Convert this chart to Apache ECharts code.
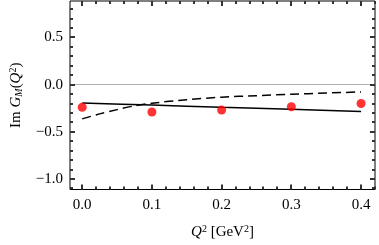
<!DOCTYPE html>
<html><head><meta charset="utf-8">
<script src="https://cdn.jsdelivr.net/npm/echarts@6/dist/echarts.min.js"></script>
<style>html,body{margin:0;padding:0;background:#fff}#c{width:379px;height:245px}</style>
</head><body><div id="c"></div>
<script>
// data
var pointsQ2 = [0.0, 0.1, 0.2, 0.3, 0.4];
var pointsIm = [-0.24, -0.29, -0.27, -0.235, -0.20];
var solidQ2 = [0.0, 0.1, 0.2, 0.3, 0.4];
var solidIm = [-0.195, -0.216, -0.24, -0.261, -0.284];
var dashedQ2 = [0.0, 0.025, 0.05, 0.075, 0.1, 0.15, 0.2, 0.25, 0.3, 0.35, 0.4];
var dashedIm = [-0.363, -0.31, -0.265, -0.225, -0.197, -0.16, -0.133, -0.117, -0.102, -0.089, -0.077];
var xTicks = [0.0, 0.1, 0.2, 0.3, 0.4];
var yTicks = [-1.0, -0.5, 0.0, 0.5];
var xMinorStep = 0.02, yMinorStep = 0.1;

var xMin = -0.0175, xMax = 0.42, yMin = -1.112, yMax = 0.887;
function minor(lo, hi, step) {
  var out = [];
  for (var v = Math.ceil(lo / step) * step; v <= hi + 1e-9; v += step) out.push(+v.toFixed(4));
  return out;
}
var xMinor = minor(xMin, xMax, xMinorStep), yMinor = minor(yMin, yMax, yMinorStep);
function zip(a, b) { return a.map(function (v, i) { return [v, b[i]]; }); }
function fmt(v) { return (v < 0 ? '\u2212' : '') + Math.abs(v).toFixed(1); }
function isMajor(list, v) { return list.some(function (t) { return Math.abs(t - v) < 1e-6; }); }
var font = 'Liberation Serif';
var lab = { fontFamily: font, fontSize: 15, color: '#000' };

var chart = echarts.init(document.getElementById('c'), null, { renderer: 'canvas' });
chart.setOption({
  animation: false,
  backgroundColor: '#fff',
  grid: { left: 60, right: 4, top: 1, bottom: 49, containLabel: false, show: true, borderColor: '#000', borderWidth: 1, backgroundColor: 'transparent' },
  xAxis: {
    type: 'value', min: xMin, max: xMax,
    axisLine: { show: false }, axisTick: { show: false }, splitLine: { show: false },
    axisLabel: Object.assign({ show: true, customValues: xTicks, formatter: fmt, margin: 8 }, lab),
    name: '{i|Q}{sup|2} {r|[GeV}{sup|2}{r|]}', nameLocation: 'middle', nameGap: 35,
    nameTextStyle: { fontFamily: font, fontSize: 15, color: '#000', rich: {
      i: { fontFamily: font, fontSize: 15, fontStyle: 'italic', color: '#000' },
      r: { fontFamily: font, fontSize: 15, color: '#000' },
      sup: { fontFamily: font, fontSize: 10, color: '#000', verticalAlign: 'top', padding: [0, 0, 6, 0] }
    } }
  },
  yAxis: {
    type: 'value', min: yMin, max: yMax,
    axisLine: { show: false }, axisTick: { show: false }, splitLine: { show: false },
    axisLabel: Object.assign({ show: true, customValues: yTicks, formatter: fmt, margin: 7 }, lab),
    name: '{r|Im }{i|G}{sub|M}{r|(}{i|Q}{sup|2}{r|)}', nameLocation: 'middle', nameRotate: 90, nameGap: 46,
    nameTextStyle: { fontFamily: font, fontSize: 15, color: '#000', rich: {
      i: { fontFamily: font, fontSize: 15, fontStyle: 'italic', color: '#000' },
      r: { fontFamily: font, fontSize: 15, color: '#000' },
      sub: { fontFamily: font, fontSize: 10, fontStyle: 'italic', color: '#000', verticalAlign: 'bottom', padding: [6, 0, 0, 0] },
      sup: { fontFamily: font, fontSize: 10, color: '#000', verticalAlign: 'top', padding: [0, 0, 6, 0] }
    } }
  },
  series: [
    { type: 'line', data: zip(solidQ2, solidIm), showSymbol: false, smooth: 0.3,
      lineStyle: { color: '#000', width: 1.5 },
      markLine: { silent: true, symbol: 'none', label: { show: false }, lineStyle: { color: '#b0b0b0', width: 1, type: 'solid' }, data: [{ yAxis: 0 }] } },
    { type: 'line', data: zip(dashedQ2, dashedIm), showSymbol: false, smooth: 0.3,
      lineStyle: { color: '#000', width: 1.5, type: [9, 5] } },
    { type: 'scatter', data: zip(pointsQ2, pointsIm), symbol: 'circle', symbolSize: 9,
      itemStyle: { color: '#ff0000' }, z: 5 }
  ]
});

// frame tick marks (inside, all four sides) placed through the chart's own scales
var p0 = chart.convertToPixel({ gridIndex: 0 }, [xMin, yMin]);
var p1 = chart.convertToPixel({ gridIndex: 0 }, [xMax, yMax]);
var L = p0[0], R = p1[0], B = p0[1], T = p1[1];
var els = [];
var w = 2;
xMinor.forEach(function (v) {
  var len = isMajor(xTicks, v) ? 5 : 3;
  var px = Math.round(chart.convertToPixel({ gridIndex: 0 }, [v, 0])[0]);
  els.push({ type: 'rect', z: 100, silent: true, shape: { x: px - 1, y: B - len, width: w, height: len }, style: { fill: '#333' } });
  els.push({ type: 'rect', z: 100, silent: true, shape: { x: px - 1, y: T, width: w, height: len }, style: { fill: '#333' } });
});
yMinor.forEach(function (v) {
  var len = isMajor(yTicks, v) ? 5 : 3;
  var py = Math.round(chart.convertToPixel({ gridIndex: 0 }, [0, v])[1]);
  els.push({ type: 'rect', z: 100, silent: true, shape: { x: L, y: py - 1, width: len, height: w }, style: { fill: '#333' } });
  els.push({ type: 'rect', z: 100, silent: true, shape: { x: R - len, y: py - 1, width: len, height: w }, style: { fill: '#333' } });
});
chart.setOption({ graphic: { elements: els } });
</script></body></html>
